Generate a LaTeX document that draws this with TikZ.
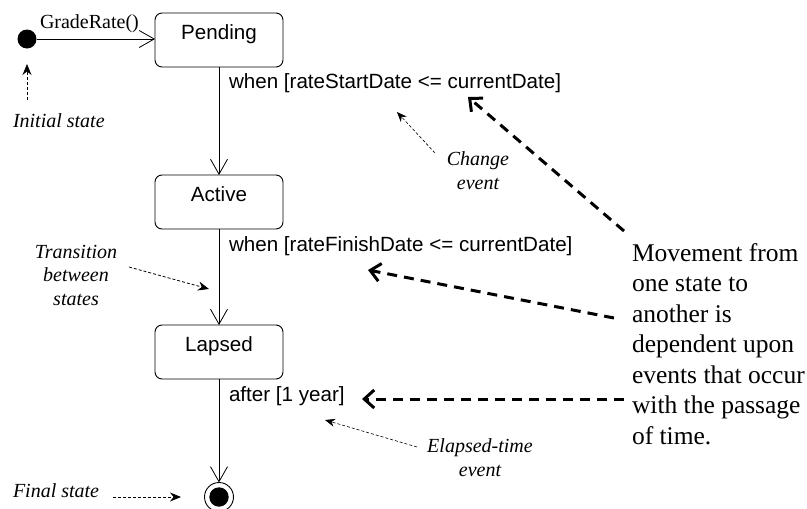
\documentclass[tikz,border=0pt]{standalone}
\usepackage{fontspec}
\setmainfont{Liberation Serif}
\newfontfamily\uisans{Liberation Sans}
\usetikzlibrary{arrows.meta}

\begin{document}
\begin{tikzpicture}[x=1pt,y=-1pt,
  every node/.style={inner sep=0pt, outer sep=0pt},
  statebox/.style={draw, line width=0.9pt, rounded corners=7pt,
    minimum width=128pt, text height=26pt, text depth=28pt,
    font=\uisans\fontsize{20.6}{24}\selectfont},
  guard/.style={anchor=base west, font=\uisans\fontsize{20.6}{24}\selectfont},
  note/.style={align=center, font=\itshape\fontsize{20}{23.5}\selectfont},
  trans/.style={line width=0.8pt, -{Straight Barb[length=15pt,width=17pt,line width=0.8pt]}},
  pointer/.style={line width=0.8pt, dash pattern=on 3pt off 2pt,
    -{Stealth[length=11pt,width=9pt]}},
  bigpointer/.style={line width=3pt, dash pattern=on 10pt off 7pt,
    -{Straight Barb[length=10pt,width=18pt,line width=3pt]}}
]
\useasboundingbox (0,0) rectangle (807,509);

% states
\node[circle, fill=black, minimum size=19pt] (init) at (27,39) {};
\node[statebox] (pending) at (219,40) {Pending};
\node[statebox] (active)  at (219,202) {Active};
\node[statebox] (lapsed)  at (219,352) {Lapsed};
\node[circle, draw, line width=0.9pt, minimum size=29pt] (final) at (219,497) {};
\fill (final.center) circle (9.7pt);

% transitions
\draw[trans] (init) -- (pending.west |- init);
\draw[trans] (pending) -- (active);
\draw[trans] (active) -- (lapsed);
\draw[trans] (lapsed) -- (final);

% event labels
\node[anchor=base west, font=\fontsize{20}{24}\selectfont] (grade) at (40,28) {GradeRate()};
\node[guard] (whenstart)  at (229,88)  {when [rateStartDate <= currentDate]};
\node[guard] (whenfinish) at (229,251) {when [rateFinishDate <= currentDate]};
\node[guard] (after)      at (229,401) {after [1 year]};

% annotations (multi-line nodes are placed by the baseline of their last line)
\node[anchor=base west, font=\itshape\fontsize{20}{24}\selectfont] (initlbl) at (13,127) {Initial state};
\coordinate (initfrom) at (27,100);
\coordinate (initto) at (27,64);
\draw[pointer] (initfrom) -- (initto);

\node[note, anchor=base] (translbl) at (76,305) {Transition\\between\\states};
\coordinate (transfrom) at (129,267);
\coordinate (transto) at (209,289);
\draw[pointer] (transfrom) -- (transto);

\node[note, anchor=base] (changelbl) at (478,189) {Change\\event};
\coordinate (changefrom) at (435,153);
\coordinate (changeto) at (397,112);
\draw[pointer, line width=0.6pt, -{Stealth[length=10pt,width=8pt]}] (changefrom) -- (changeto);

\node[note, anchor=base] (elapsedlbl) at (480,476) {Elapsed-time\\event};
\coordinate (elapsedfrom) at (417,447);
\coordinate (elapsedto) at (325,420);
\draw[pointer, line width=0.6pt, -{Stealth[length=10pt,width=8pt]}] (elapsedfrom) -- (elapsedto);

\node[anchor=base west, font=\itshape\fontsize{20}{24}\selectfont] (finallbl) at (13,497) {Final state};
\coordinate (finalfrom) at (113,497);
\coordinate (finalto) at (181,497);
\draw[pointer] (finalfrom) -- (finalto);

% explanatory text with its pointers
\node[anchor=base west, align=left, font=\fontsize{25.5}{30.5}\selectfont] (expl) at (632,444)
  {Movement from\\one state to\\another is\\dependent upon\\events that occur\\with the passage\\of time.};
\coordinate (p1from) at (624,231);
\coordinate (p1to) at (468,97);
\coordinate (p2from) at (614,318);
\coordinate (p2to) at (368,270);
\coordinate (p3from) at (624,399);
\coordinate (p3to) at (362,399);
\draw[bigpointer] (p1from) -- (p1to);
\draw[bigpointer] (p2from) -- (p2to);
\draw[bigpointer] (p3from) -- (p3to);
\end{tikzpicture}
\end{document}
